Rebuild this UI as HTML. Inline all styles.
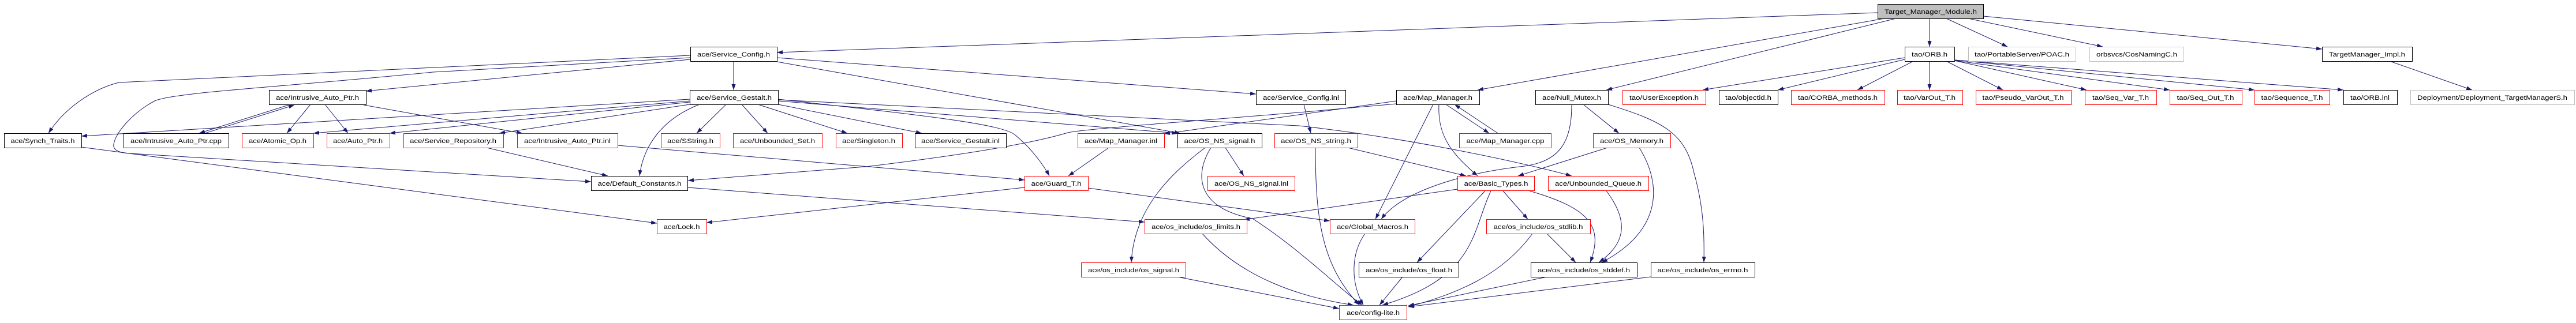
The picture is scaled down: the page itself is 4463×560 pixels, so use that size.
<!DOCTYPE html>
<html><head><meta charset="utf-8"><style>
html,body{margin:0;padding:0;background:#fff;}
svg{display:block;}
text{font-family:"Liberation Sans",sans-serif;font-size:11px;fill:#000;}
.e{fill:none;stroke:#191970;stroke-width:1;}
</style></head><body>
<svg width="4463" height="560" viewBox="0 0 4463 560" xmlns="http://www.w3.org/2000/svg">
<defs><marker id="a" markerWidth="10" markerHeight="7" refX="10" refY="3.5" orient="auto" markerUnits="userSpaceOnUse"><path d="M0,0 L10,3.5 L0,7 z" fill="#191970"/></marker></defs>
<g class="e" marker-end="url(#a)">
<path d="M3253,22 L1346,91"/>
<path d="M3265,32 L2560,156"/>
<path d="M3285,32 L2783,156"/>
<path d="M3343,32 L3343,81"/>
<path d="M3372,32 L3478,81"/>
<path d="M3410,32 L3643,81"/>
<path d="M3436,28 L4023,85"/>
<path d="M4143,107 L4283,156"/>
<path d="M3300,100 L2950,156"/>
<path d="M3300,103 L3080,156"/>
<path d="M3313,107 L3218,156"/>
<path d="M3343,107 L3343,156"/>
<path d="M3374,107 L3470,156"/>
<path d="M3386,105 L3615,156"/>
<path d="M3386,105 L3759,156"/>
<path d="M3386,104 L3906,156"/>
<path d="M3386,104 L4060,156"/>
<path d="M1271,106 L1271,156"/>
<path d="M1196,96 L206,143 C158,155 110,190 84,231"/>
<path d="M1196,100 L750,125 C500,150 300,160 268,175 C230,195 200,230 197,250 C195,262 210,265 225,266 L1024,315"/>
<path d="M1196,103 L634,158"/>
<path d="M1346,100 L2176,163"/>
<path d="M1346,107 L2045,231"/>
<path d="M1195,172 L141,236"/>
<path d="M1195,175 L543,231"/>
<path d="M1195,177 L675,231"/>
<path d="M1195,181 L865,231"/>
<path d="M1212,181 C1150,205 1115,250 1108,305"/>
<path d="M1258,181 L1207,231"/>
<path d="M1285,181 L1330,231"/>
<path d="M1313,181 L1468,231"/>
<path d="M1348,181 L1597,231"/>
<path d="M1348,172 C1600,200 1740,215 1760,235 C1790,260 1810,290 1818,305"/>
<path d="M1348,175 L2040,231"/>
<path d="M1348,173 L2250,218 C2450,240 2650,285 2723,305"/>
<path d="M2419,175 L2017,232"/>
<path d="M2419,180 L2250,195 C2000,215 1870,225 1850,230 C1800,245 1700,265 1500,289 L1192,313"/>
<path d="M500,182 L345,231"/>
<path d="M355,231 L510,182"/>
<path d="M538,181 L497,231"/>
<path d="M563,181 L603,231"/>
<path d="M630,182 L905,231"/>
<path d="M141,255 L1138,387"/>
<path d="M843,256 L1053,305"/>
<path d="M1191,325 L1983,385"/>
<path d="M1775,325 L1224,386"/>
<path d="M1885,326 L2304,383"/>
<path d="M1070,252 L1775,312"/>
<path d="M1921,256 L1851,305"/>
<path d="M2259,181 L2271,231"/>
<path d="M2123,256 L2155,305"/>
<path d="M2088,256 C2030,300 1965,360 1960,455"/>
<path d="M2098,256 C2070,300 2070,360 2170,379 C2250,430 2320,500 2360,529"/>
<path d="M2083,405 C2150,480 2250,515 2345,529"/>
<path d="M2040,480 L2320,535"/>
<path d="M2335,256 L2540,305"/>
<path d="M2279,256 C2279,380 2290,460 2355,529"/>
<path d="M2505,181 L2580,231"/>
<path d="M2595,231 L2520,181"/>
<path d="M2493,181 C2490,240 2520,270 2560,305"/>
<path d="M2483,181 L2383,380"/>
<path d="M2723,181 C2723,250 2700,282 2633,289 C2540,300 2430,330 2393,380"/>
<path d="M2743,181 L2805,231"/>
<path d="M2786,181 C2880,210 2920,230 2935,300 C2952,360 2953,410 2952,455"/>
<path d="M2785,256 L2630,305"/>
<path d="M2840,256 C2880,320 2880,400 2775,455"/>
<path d="M2783,331 C2820,380 2820,420 2770,455"/>
<path d="M2525,328 L2155,381"/>
<path d="M2573,331 L2455,455"/>
<path d="M2583,331 C2550,400 2560,480 2395,529"/>
<path d="M2604,331 L2647,380"/>
<path d="M2650,331 C2750,360 2780,390 2755,455"/>
<path d="M2365,405 C2340,440 2340,490 2362,529"/>
<path d="M2680,405 L2730,455"/>
<path d="M2655,405 C2600,480 2520,510 2440,532"/>
<path d="M2430,480 L2390,529"/>
<path d="M2680,480 L2440,530"/>
<path d="M2860,480 L2440,532"/>
</g>
<g stroke-width="1" fill="#fff">
<rect x="3253.5" y="7.5" width="183" height="25" fill="#bfbfbf" stroke="#000"/>
<rect x="1196.5" y="81.5" width="150" height="25" stroke="#000"/>
<rect x="3300.5" y="81.5" width="86" height="25" stroke="#000"/>
<rect x="3410.5" y="81.5" width="186" height="25" stroke="#bfbfbf"/>
<rect x="3620.5" y="81.5" width="163" height="25" stroke="#bfbfbf"/>
<rect x="4023.5" y="81.5" width="156" height="25" stroke="#000"/>
<rect x="466.5" y="156.5" width="168" height="25" stroke="#000"/>
<rect x="1195.5" y="156.5" width="153" height="25" stroke="#000"/>
<rect x="2176.5" y="156.5" width="155" height="25" stroke="#000"/>
<rect x="2419.5" y="156.5" width="144" height="25" stroke="#000"/>
<rect x="2660.5" y="156.5" width="126" height="25" stroke="#000"/>
<rect x="2811.5" y="156.5" width="144" height="25" stroke="#f00"/>
<rect x="2978.5" y="156.5" width="102" height="25" stroke="#000"/>
<rect x="3103.5" y="156.5" width="162" height="25" stroke="#f00"/>
<rect x="3287.5" y="156.5" width="113" height="25" stroke="#f00"/>
<rect x="3423.5" y="156.5" width="165" height="25" stroke="#f00"/>
<rect x="3612.5" y="156.5" width="124" height="25" stroke="#f00"/>
<rect x="3759.5" y="156.5" width="125" height="25" stroke="#f00"/>
<rect x="3906.5" y="156.5" width="130" height="25" stroke="#f00"/>
<rect x="4060.5" y="156.5" width="93" height="25" stroke="#000"/>
<rect x="4176.5" y="156.5" width="284" height="25" stroke="#bfbfbf"/>
<rect x="7.5" y="231.5" width="134" height="25" stroke="#000"/>
<rect x="214.5" y="231.5" width="182" height="25" stroke="#000"/>
<rect x="419.5" y="231.5" width="124" height="25" stroke="#f00"/>
<rect x="566.5" y="231.5" width="109" height="25" stroke="#f00"/>
<rect x="699.5" y="231.5" width="173" height="25" stroke="#f00"/>
<rect x="896.5" y="231.5" width="174" height="25" stroke="#f00"/>
<rect x="1145.5" y="231.5" width="102" height="25" stroke="#f00"/>
<rect x="1270.5" y="231.5" width="154" height="25" stroke="#f00"/>
<rect x="1448.5" y="231.5" width="115" height="25" stroke="#f00"/>
<rect x="1585.5" y="231.5" width="158" height="25" stroke="#000"/>
<rect x="1867.5" y="231.5" width="150" height="25" stroke="#f00"/>
<rect x="2040.5" y="231.5" width="146" height="25" stroke="#000"/>
<rect x="2208.5" y="231.5" width="144" height="25" stroke="#f00"/>
<rect x="2528.5" y="231.5" width="159" height="25" stroke="#f00"/>
<rect x="2760.5" y="231.5" width="134" height="25" stroke="#f00"/>
<rect x="1024.5" y="305.5" width="167" height="25" stroke="#000"/>
<rect x="1775.5" y="305.5" width="110" height="25" stroke="#f00"/>
<rect x="2092.5" y="305.5" width="151" height="25" stroke="#f00"/>
<rect x="2525.5" y="305.5" width="133" height="25" stroke="#f00"/>
<rect x="2682.5" y="305.5" width="174" height="25" stroke="#f00"/>
<rect x="1138.5" y="380.5" width="86" height="25" stroke="#f00"/>
<rect x="1983.5" y="380.5" width="177" height="25" stroke="#f00"/>
<rect x="2304.5" y="380.5" width="147" height="25" stroke="#f00"/>
<rect x="2575.5" y="380.5" width="180" height="25" stroke="#f00"/>
<rect x="1873.5" y="455.5" width="181" height="25" stroke="#f00"/>
<rect x="2354.5" y="455.5" width="173" height="25" stroke="#000"/>
<rect x="2652.5" y="455.5" width="184" height="25" stroke="#000"/>
<rect x="2860.5" y="455.5" width="180" height="25" stroke="#000"/>
<rect x="2320.5" y="529.5" width="117" height="25" stroke="#f00"/>
</g>
<g text-anchor="middle" lengthAdjust="spacingAndGlyphs">
<text x="3345" y="24" textLength="160" lengthAdjust="spacingAndGlyphs">Target_Manager_Module.h</text>
<text x="1271" y="98" textLength="126" lengthAdjust="spacingAndGlyphs">ace/Service_Config.h</text>
<text x="3343" y="98" textLength="62" lengthAdjust="spacingAndGlyphs">tao/ORB.h</text>
<text x="3503" y="98" textLength="164" lengthAdjust="spacingAndGlyphs">tao/PortableServer/POAC.h</text>
<text x="3702" y="98" textLength="140" lengthAdjust="spacingAndGlyphs">orbsvcs/CosNamingC.h</text>
<text x="4101" y="98" textLength="132" lengthAdjust="spacingAndGlyphs">TargetManager_Impl.h</text>
<text x="550" y="173" textLength="144" lengthAdjust="spacingAndGlyphs">ace/Intrusive_Auto_Ptr.h</text>
<text x="1272" y="173" textLength="130" lengthAdjust="spacingAndGlyphs">ace/Service_Gestalt.h</text>
<text x="2254" y="173" textLength="132" lengthAdjust="spacingAndGlyphs">ace/Service_Config.inl</text>
<text x="2491" y="173" textLength="120" lengthAdjust="spacingAndGlyphs">ace/Map_Manager.h</text>
<text x="2723" y="173" textLength="102" lengthAdjust="spacingAndGlyphs">ace/Null_Mutex.h</text>
<text x="2883" y="173" textLength="120" lengthAdjust="spacingAndGlyphs">tao/UserException.h</text>
<text x="3029" y="173" textLength="80" lengthAdjust="spacingAndGlyphs">tao/objectid.h</text>
<text x="3184" y="173" textLength="138" lengthAdjust="spacingAndGlyphs">tao/CORBA_methods.h</text>
<text x="3343" y="173" textLength="90" lengthAdjust="spacingAndGlyphs">tao/VarOut_T.h</text>
<text x="3505" y="173" textLength="141" lengthAdjust="spacingAndGlyphs">tao/Pseudo_VarOut_T.h</text>
<text x="3674" y="173" textLength="98" lengthAdjust="spacingAndGlyphs">tao/Seq_Var_T.h</text>
<text x="3821" y="173" textLength="99" lengthAdjust="spacingAndGlyphs">tao/Seq_Out_T.h</text>
<text x="3971" y="173" textLength="107" lengthAdjust="spacingAndGlyphs">tao/Sequence_T.h</text>
<text x="4106" y="173" textLength="68" lengthAdjust="spacingAndGlyphs">tao/ORB.inl</text>
<text x="4318" y="173" textLength="260" lengthAdjust="spacingAndGlyphs">Deployment/Deployment_TargetManagerS.h</text>
<text x="74" y="248" textLength="111" lengthAdjust="spacingAndGlyphs">ace/Synch_Traits.h</text>
<text x="305" y="248" textLength="158" lengthAdjust="spacingAndGlyphs">ace/Intrusive_Auto_Ptr.cpp</text>
<text x="481" y="248" textLength="100" lengthAdjust="spacingAndGlyphs">ace/Atomic_Op.h</text>
<text x="620" y="248" textLength="86" lengthAdjust="spacingAndGlyphs">ace/Auto_Ptr.h</text>
<text x="785" y="248" textLength="150" lengthAdjust="spacingAndGlyphs">ace/Service_Repository.h</text>
<text x="983" y="248" textLength="150" lengthAdjust="spacingAndGlyphs">ace/Intrusive_Auto_Ptr.inl</text>
<text x="1196" y="248" textLength="80" lengthAdjust="spacingAndGlyphs">ace/SString.h</text>
<text x="1347" y="248" textLength="130" lengthAdjust="spacingAndGlyphs">ace/Unbounded_Set.h</text>
<text x="1505" y="248" textLength="92" lengthAdjust="spacingAndGlyphs">ace/Singleton.h</text>
<text x="1664" y="248" textLength="136" lengthAdjust="spacingAndGlyphs">ace/Service_Gestalt.inl</text>
<text x="1942" y="248" textLength="126" lengthAdjust="spacingAndGlyphs">ace/Map_Manager.inl</text>
<text x="2113" y="248" textLength="123" lengthAdjust="spacingAndGlyphs">ace/OS_NS_signal.h</text>
<text x="2280" y="248" textLength="122" lengthAdjust="spacingAndGlyphs">ace/OS_NS_string.h</text>
<text x="2608" y="248" textLength="135" lengthAdjust="spacingAndGlyphs">ace/Map_Manager.cpp</text>
<text x="2827" y="248" textLength="110" lengthAdjust="spacingAndGlyphs">ace/OS_Memory.h</text>
<text x="1108" y="322" textLength="145" lengthAdjust="spacingAndGlyphs">ace/Default_Constants.h</text>
<text x="1830" y="322" textLength="87" lengthAdjust="spacingAndGlyphs">ace/Guard_T.h</text>
<text x="2168" y="322" textLength="128" lengthAdjust="spacingAndGlyphs">ace/OS_NS_signal.inl</text>
<text x="2592" y="322" textLength="111" lengthAdjust="spacingAndGlyphs">ace/Basic_Types.h</text>
<text x="2769" y="322" textLength="150" lengthAdjust="spacingAndGlyphs">ace/Unbounded_Queue.h</text>
<text x="1181" y="397" textLength="63" lengthAdjust="spacingAndGlyphs">ace/Lock.h</text>
<text x="2072" y="397" textLength="154" lengthAdjust="spacingAndGlyphs">ace/os_include/os_limits.h</text>
<text x="2378" y="397" textLength="124" lengthAdjust="spacingAndGlyphs">ace/Global_Macros.h</text>
<text x="2665" y="397" textLength="155" lengthAdjust="spacingAndGlyphs">ace/os_include/os_stdlib.h</text>
<text x="1964" y="472" textLength="158" lengthAdjust="spacingAndGlyphs">ace/os_include/os_signal.h</text>
<text x="2441" y="472" textLength="150" lengthAdjust="spacingAndGlyphs">ace/os_include/os_float.h</text>
<text x="2744" y="472" textLength="160" lengthAdjust="spacingAndGlyphs">ace/os_include/os_stddef.h</text>
<text x="2950" y="472" textLength="157" lengthAdjust="spacingAndGlyphs">ace/os_include/os_errno.h</text>
<text x="2379" y="546" textLength="92" lengthAdjust="spacingAndGlyphs">ace/config-lite.h</text>
</g>
</svg>
</body></html>
